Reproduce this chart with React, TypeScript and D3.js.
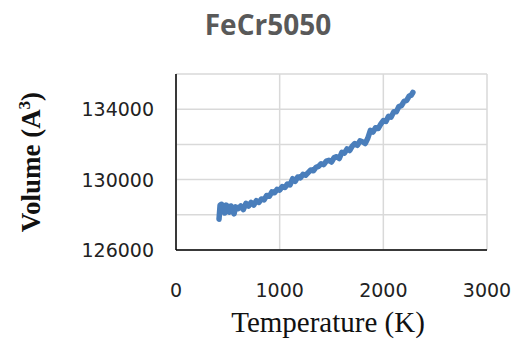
import React from "react";
import * as d3 from "d3";

const temps = [
  415, 425, 440, 455, 470, 485, 500, 515, 530, 545, 560, 575, 600, 625, 650, 675, 700, 725, 750, 775,
  800, 825, 850, 875, 900, 925, 950, 975, 1000, 1025, 1050, 1075, 1100, 1125, 1150, 1175, 1200, 1225,
  1250, 1275, 1300, 1325, 1350, 1375, 1400, 1425, 1450, 1475, 1500, 1525, 1550, 1575, 1600, 1625, 1650,
  1675, 1700, 1725, 1750, 1775, 1800, 1825, 1850, 1875, 1900, 1925, 1950, 1975, 2000, 2025, 2050, 2075,
  2100, 2125, 2150, 2175, 2200, 2225, 2250, 2270, 2285,
];

const volumes = [
  127750, 128550, 128600, 128500, 128100, 128550, 128450, 128150, 128500, 128400, 128050, 128450, 128350,
  128500, 128300, 128650, 128500, 128700, 128550, 128800, 128700, 128900, 128850, 129100, 129050, 129300,
  129250, 129450, 129400, 129600, 129550, 129750, 129700, 130050, 129900, 130150, 130100, 130300, 130250,
  130400, 130550, 130500, 130700, 130750, 130900, 130850, 131050, 131100, 131000, 131250, 131300, 131200,
  131550, 131500, 131750, 131650, 131900, 132050, 131950, 132200, 132150, 132050, 132350, 132800, 132700,
  132950, 132900, 133150, 133350, 133300, 133600, 133550, 133850, 133850, 134150, 134200, 134450, 134500,
  134750, 134800, 134950,
];

const xTicks = [0, 1000, 2000, 3000];
const yGrid = [126000, 128000, 130000, 132000, 134000, 136000];
const yLabels = [126000, 130000, 134000];

const width = 516;
const height = 356;
const plot = { left: 176, right: 487, top: 74, bottom: 250 };

export default function App() {
  const x = d3.scaleLinear().domain([0, 3000]).range([plot.left, plot.right]);
  const y = d3.scaleLinear().domain([126000, 136000]).range([plot.bottom, plot.top]);

  const pts: [number, number][] = temps.map((t, i) => [t, volumes[i]]);
  const line = d3
    .line<[number, number]>()
    .x((d) => x(d[0]))
    .y((d) => y(d[1]));

  return (
    <svg
      width={width}
      height={height}
      style={{ position: "absolute", left: 0, top: 0, background: "#fff" }}
    >
      <text
        x={268}
        y={35}
        textAnchor="middle"
        fontFamily="'Open Sans', sans-serif"
        fontWeight="bold"
        fontSize={28}
        fill="#595959"
      >
        FeCr5050
      </text>

      {xTicks.map((t) => (
        <line key={"vx" + t} x1={x(t)} x2={x(t)} y1={plot.top} y2={plot.bottom} stroke="#d9d9d9" strokeWidth={1.5} />
      ))}
      {yGrid.map((v) => (
        <line key={"hy" + v} x1={plot.left} x2={plot.right} y1={y(v)} y2={y(v)} stroke="#d9d9d9" strokeWidth={1.5} />
      ))}

      <line x1={plot.left} x2={plot.left} y1={plot.top} y2={plot.bottom} stroke="#000" strokeWidth={1.5} />
      <line x1={plot.left} x2={plot.right} y1={plot.bottom} y2={plot.bottom} stroke="#000" strokeWidth={1.5} />

      <path
        d={line(pts) ?? ""}
        fill="none"
        stroke="#4a7ebb"
        strokeWidth={5.5}
        strokeLinejoin="round"
        strokeLinecap="round"
      />

      {yLabels.map((v) => (
        <text
          key={"yl" + v}
          x={154}
          y={y(v) + 7}
          textAnchor="end"
          fontFamily="'DejaVu Sans', sans-serif"
          fontSize={19}
          fill="#222"
        >
          {v}
        </text>
      ))}
      {xTicks.map((t) => (
        <text
          key={"xl" + t}
          x={x(t)}
          y={297}
          textAnchor="middle"
          fontFamily="'DejaVu Sans', sans-serif"
          fontSize={19}
          fill="#222"
        >
          {t}
        </text>
      ))}

      <text
        x={328}
        y={332}
        textAnchor="middle"
        fontFamily="'Liberation Serif', serif"
        fontSize={29}
        fill="#111"
      >
        Temperature (K)
      </text>
      <text
        transform="translate(40,162) rotate(-90)"
        textAnchor="middle"
        fontFamily="'Liberation Serif', serif"
        fontWeight="bold"
        fontSize={27}
        fill="#111"
      >
        Volume (A<tspan dy={-10} fontSize={17}>3</tspan><tspan dy={10}>)</tspan>
      </text>
    </svg>
  );
}
